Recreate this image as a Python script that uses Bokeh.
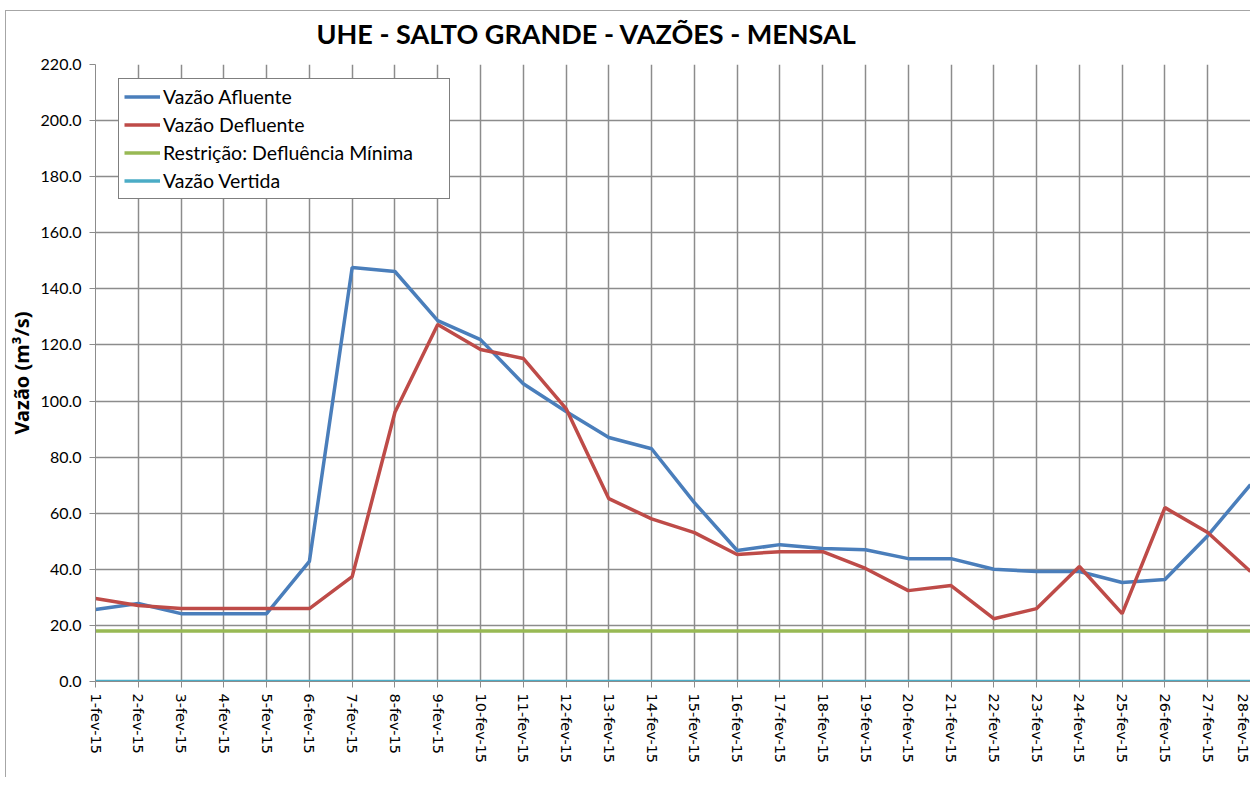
import math
from bokeh.plotting import figure
from bokeh.models import Range1d, FixedTicker, Legend, LegendItem
from bokeh.embed import file_html
from bokeh.resources import INLINE

days = list(range(1, 29))
tick_labels = [f"{d}-fev-15" for d in days]

afluente = [25.7, 27.8, 24.2, 24.2, 24.2, 42.8, 147.6, 146.2, 128.7, 121.9,
            106.2, 96.3, 87.0, 83.0, 63.8, 46.7, 48.8, 47.4, 47.0, 43.8,
            43.8, 40.0, 39.2, 39.2, 35.3, 36.4, 52.0, 70.2]
defluente = [29.6, 27.1, 26.0, 26.0, 26.0, 26.0, 37.4, 96.0, 127.3, 118.4,
             115.2, 97.3, 65.2, 58.0, 53.1, 45.3, 46.3, 46.3, 40.3, 32.4,
             34.2, 22.4, 26.0, 41.0, 24.2, 62.0, 53.1, 39.2]
minima = [18.0] * 28
vertida = [0.0] * 28

p = figure(width=1250, height=777, output_backend="svg", toolbar_location=None,
           x_range=Range1d(1, 28), y_range=Range1d(0, 220),
           min_border_left=95, min_border_right=0, min_border_bottom=96, min_border_top=64,
           title="UHE - SALTO GRANDE - VAZÕES - MENSAL")

p.border_fill_color = None
p.background_fill_color = "white"
p.styles = {"background": "linear-gradient(#a6a6a6,#a6a6a6) 5px 10px / 1px 100% no-repeat, "
                          "linear-gradient(#a6a6a6,#a6a6a6) 5px 10px / 100% 1px no-repeat, white"}

p.title.align = "left"
p.title.offset = 221
p.title.text_font = "Lato"
p.title.text_font_style = "bold"
p.title.text_font_size = "27px"
p.title.text_color = "black"
p.title.standoff = 29

p.outline_line_color = None

grid_color = "#8c8c8c"
p.xaxis.ticker = FixedTicker(ticks=days)
p.xaxis.major_label_overrides = {d: lab for d, lab in zip(days, tick_labels)}
p.xaxis.major_label_orientation = -math.pi / 2
p.xaxis.major_label_text_font = "DejaVu Sans"
p.xaxis.major_label_text_font_size = "14.5px"
p.xaxis.major_label_text_color = "black"
p.xaxis.major_label_standoff = 6
p.xaxis.axis_line_color = grid_color
p.xaxis.major_tick_line_color = grid_color
p.xaxis.major_tick_out = 6
p.xaxis.major_tick_in = 0
p.xaxis.minor_tick_line_color = None

p.yaxis.ticker = FixedTicker(ticks=list(range(0, 221, 20)))
p.yaxis.major_label_overrides = {v: f"{v:.1f}" for v in range(0, 221, 20)}
p.yaxis.major_label_text_font = "Lato"
p.yaxis.major_label_text_font_size = "16px"
p.yaxis.major_label_text_color = "black"
p.yaxis.major_label_standoff = 8
p.yaxis.axis_line_color = grid_color
p.yaxis.major_tick_line_color = grid_color
p.yaxis.major_tick_out = 6
p.yaxis.major_tick_in = 0
p.yaxis.minor_tick_line_color = None
p.yaxis.axis_label = "Vazão (m³/s)"
p.yaxis.axis_label_text_font = "Noto Sans"
p.yaxis.axis_label_text_font_style = "bold"
p.yaxis.axis_label_text_font_size = "20px"
p.yaxis.axis_label_text_color = "black"
p.yaxis.axis_label_standoff = 3

p.xgrid.grid_line_color = grid_color
p.xgrid.grid_line_width = 1.5
p.ygrid.grid_line_color = grid_color
p.ygrid.grid_line_width = 1.5

r1 = p.line(days, afluente, line_color="#4A7EBB", line_width=3.5)
r2 = p.line(days, defluente, line_color="#BE4B48", line_width=3.5)
r3 = p.line(days, minima, line_color="#98B954", line_width=3.5)
r4 = p.line(days, vertida, line_color="#4BACC6", line_width=3.5)

legend = Legend(items=[
    LegendItem(label="Vazão Afluente", renderers=[r1]),
    LegendItem(label="Vazão Defluente", renderers=[r2]),
    LegendItem(label="Restrição: Defluência Mínima", renderers=[r3]),
    LegendItem(label="Vazão Vertida", renderers=[r4]),
], location=(23, 482))
legend.label_text_font = "Lato"
legend.label_text_font_size = "19.5px"
legend.label_text_color = "black"
legend.glyph_width = 36
legend.glyph_height = 25
legend.label_height = 25
legend.label_width = 281
legend.label_standoff = 3
legend.spacing = 3
legend.padding = 5
legend.margin = 0
legend.border_line_color = "black"
legend.border_line_width = 1
legend.background_fill_color = "white"
legend.background_fill_alpha = 1
p.add_layout(legend, "center")

open("out.html", "w").write(file_html(p, INLINE))
